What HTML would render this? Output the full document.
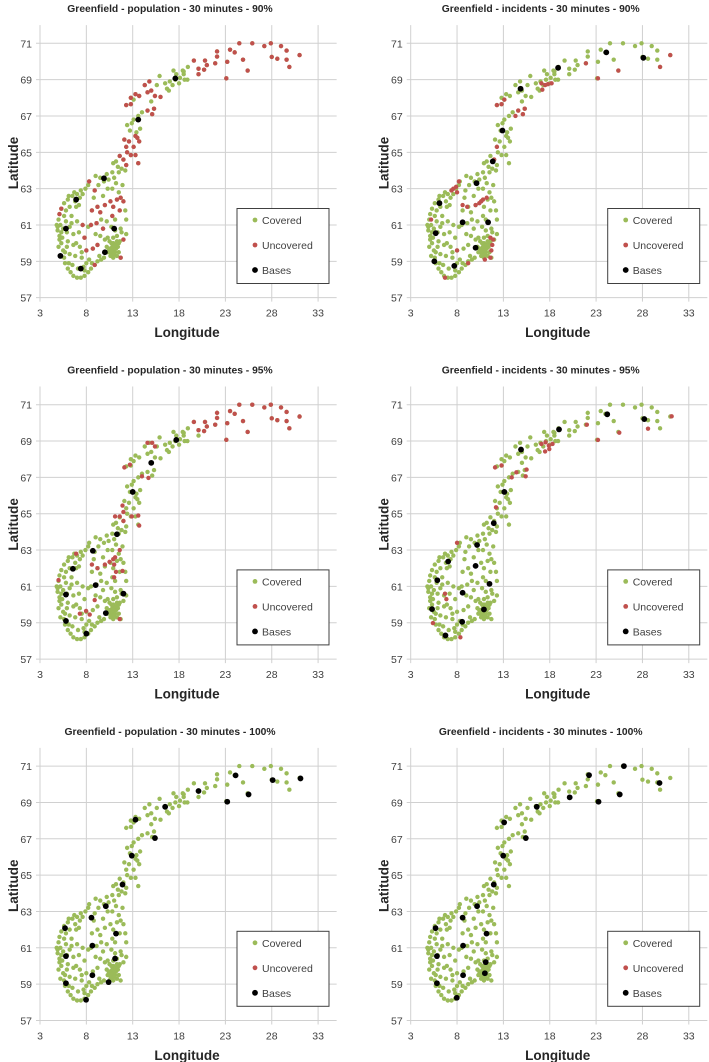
<!DOCTYPE html>
<html><head><meta charset="utf-8"><style>
html,body{margin:0;padding:0;background:#fff;}
svg{display:block;font-family:"Liberation Sans",sans-serif;}
</style></head><body>
<svg id="chart" width="709" height="1062" viewBox="0 0 709 1062" xmlns="http://www.w3.org/2000/svg"></svg>
<script>
const titles=["Greenfield - population - 30 minutes - 90%","Greenfield - incidents - 30 minutes - 90%","Greenfield - population - 30 minutes - 95%","Greenfield - incidents - 30 minutes - 95%","Greenfield - population - 30 minutes - 100%","Greenfield - incidents - 30 minutes - 100%"];
const xTicks=[3,8,13,18,23,28,33];
const yTicks=[57,59,61,63,65,67,69,71];
const demandPoints=[[24.5,71.0],[25.9,71.0],[27.9,71.0],[27.2,70.85],[29.0,70.85],[29.6,70.6],[31.0,70.35],[23.5,70.65],[24.0,70.5],[22.1,70.55],[22.1,70.27],[21.9,69.9],[19.6,70.05],[20.8,70.05],[21.0,69.8],[20.1,69.6],[20.7,69.55],[20.1,69.3],[23.2,69.98],[24.9,70.1],[25.4,69.5],[23.1,69.07],[28.0,70.25],[28.6,70.15],[29.6,70.1],[29.9,69.7],[18.95,69.7],[18.5,69.45],
[15.9,69.2],[16.5,68.8],[17.0,68.9],[17.4,69.5],[17.7,69.3],[18.1,69.1],[18.5,69.3],[18.9,69.0],[16.7,68.5],[16.9,68.4],[17.3,68.7],[17.6,69.0],[18.0,68.8],[18.4,69.5],[18.6,69.0],[15.6,68.7],[14.8,68.9],[14.3,68.7],[15.0,68.4],[14.6,68.3],[16.0,68.05],[15.4,68.1],[13.3,68.2],[13.7,68.1],[12.8,68.0],[13.1,67.9],[12.3,67.6],[12.8,67.65],[15.0,67.8],[15.3,67.4],[15.1,67.1],[14.6,67.3],[14.0,67.2],[13.6,67.0],[13.1,66.8],[12.9,66.6],[12.4,66.5],[12.7,66.2],[13.4,66.1],[13.8,66.3],[13.3,65.9],[12.6,65.6],[12.1,65.7],[13.7,65.6],[13.5,65.8],[13.1,65.3],[12.3,65.3],[12.4,65.0],[12.8,64.85],[13.3,64.85],[13.6,64.4],[12.0,64.6],[11.6,64.8],[11.2,64.5],[10.9,64.4],[11.4,64.2],[12.3,64.3],[10.8,63.9],[11.5,63.9],[11.0,63.6],[10.4,63.5],[9.9,63.4],[9.5,63.6],[9.0,63.7],[8.3,63.4],[11.9,63.2],[11.2,63.3],[10.8,63.0],[10.3,63.0],[11.5,62.8],[11.3,62.4],[11.7,62.5],[10.6,62.3],[10.0,62.1],[9.2,62.0],[8.6,61.8],[9.5,61.7],[10.8,61.5],[11.6,61.8],[12.2,61.8],[12.3,61.3],[11.1,61.3],[10.2,61.2],[9.1,61.1],[8.5,61.0],[9.8,60.8],[10.7,60.9],[11.7,60.8],[12.3,60.5],[12.0,60.2],[11.5,60.0],[11.0,59.9],[10.6,59.7],[10.3,59.5],[10.8,59.4],[11.3,59.3],[11.7,59.2],[9.9,59.2],[9.6,59.1],[9.2,59.0],[8.9,58.8],[8.5,58.6],[8.2,58.4],[7.8,58.2],[7.4,58.1],[7.0,58.1],[6.6,58.2],[6.3,58.4],[6.0,58.6],[5.7,58.9],[5.6,59.2],[5.2,59.3],[5.5,59.6],[5.3,60.0],[5.1,60.4],[4.9,60.7],[4.8,61.0],[5.0,61.3],[5.1,61.6],[5.3,61.9],[5.6,62.2],[6.0,62.4],[6.5,62.6],[7.0,62.7],[7.4,62.9],[7.9,63.0],[8.2,63.2],[6.8,62.3],[7.3,62.5],[6.2,62.0],[5.8,61.8],[6.4,61.5],[7.0,61.2],[7.6,61.0],[5.8,61.2],[6.2,60.9],[5.9,60.6],[6.6,60.5],[7.2,60.6],[7.8,60.3],[6.0,60.1],[6.6,59.9],[7.3,59.8],[8.0,59.6],[8.7,59.7],[9.2,59.9],[9.5,60.4],[6.2,59.4],[6.8,59.3],[7.5,59.2],[8.3,59.1],[6.5,58.8],[7.1,58.6],[7.7,58.7],[8.0,58.9],[10.9,60.3],[11.3,60.4],[11.8,60.6],[11.2,59.7],[11.0,59.6],[10.9,60.0],[10.5,60.1],[10.2,59.8],[11.4,59.8],[11.6,60.1],[5.5,60.8],[5.2,61.0],[5.4,60.3],[5.0,59.8],[5.7,59.5],[6.9,62.0],[8.8,62.5],[9.8,62.6],[12.2,64.0],[11.8,64.1],[10.2,63.8],[9.3,63.2],[8.9,62.9],[10.9,62.0],[12.0,62.3],
[10.5,59.5],[10.7,59.6],[10.9,59.7],[11.1,59.5],[10.8,59.8],[11.0,59.4],[10.6,59.3],[11.2,59.9],[10.4,59.7],[10.9,59.2],[11.3,60.1],[10.7,60.0],[11.5,59.5],[10.3,60.3],[11.1,60.7],[5.1,60.2],[5.3,60.6],[4.9,60.9],[5.6,61.5],[6.1,62.6],[6.7,62.8],[7.6,62.7],[7.8,58.5],[8.6,58.9],[9.4,59.3],[6.1,58.9],[5.9,59.8],[6.4,61.1],[7.2,62.1],[9.0,60.5],[8.2,60.9],[10.0,60.2],[9.6,61.3],[6.9,60.0],[7.5,59.5]];
const uncovered1=[[24.5,71.0],[25.9,71.0],[27.9,71.0],[27.2,70.85],[29.0,70.85],[29.6,70.6],[31.0,70.35],[23.5,70.65],[24.0,70.5],[22.1,70.55],[22.1,70.27],[21.9,69.9],[19.6,70.05],[20.8,70.05],[21.0,69.8],[20.1,69.6],[20.7,69.55],[20.1,69.3],[23.2,69.98],[24.9,70.1],[25.4,69.5],[23.1,69.07],[28.0,70.25],[28.6,70.15],[29.6,70.1],[29.9,69.7],[12.3,67.6],[12.8,67.65],[13.3,68.2],[13.7,68.1],[12.8,68.0],[14.3,68.7],[14.8,68.9],[15.0,68.4],[14.6,68.3],[15.4,68.1],[16.0,68.05],[15.3,67.4],[15.1,67.1],[14.6,67.3],[13.3,65.9],[12.6,65.6],[12.1,65.7],[13.7,65.6],[13.5,65.8],[13.1,65.3],[12.3,65.3],[12.4,65.0],[12.8,64.85],[13.3,64.85],[13.6,64.4],[12.0,64.6],[11.6,64.8],[12.3,64.3],[11.3,62.4],[11.7,62.5],[10.6,62.3],[10.0,62.1],[9.2,62.0],[8.6,61.8],[9.5,61.7],[10.8,61.5],[11.6,61.8],[9.1,61.1],[8.5,61.0],[9.8,60.8],[7.8,60.3],[8.7,59.7],[8.0,59.6],[9.2,59.9],[11.7,59.2],[12.0,60.2],[5.3,61.9],[5.1,61.6],[8.9,58.8],[7.6,61.0],[8.9,62.9],[8.3,63.4],[10.9,62.0],[12.0,62.3]];
const uncovered2=[[23.2,69.07],[25.4,69.5],[29.9,69.7],[31.0,70.35],[21.9,69.9],[17.1,68.8],[17.5,68.7],[17.8,68.75],[18.2,68.8],[17.2,68.45],[12.3,67.6],[12.8,67.65],[13.1,67.9],[14.6,67.3],[15.3,67.4],[15.1,67.1],[14.3,67.0],[12.3,65.3],[12.0,64.6],[7.6,63.0],[7.9,63.1],[8.0,62.8],[7.4,62.9],[8.2,63.4],[8.6,62.1],[9.1,62.0],[10.0,62.1],[10.4,62.2],[10.8,62.4],[11.2,62.5],[10.6,62.3],[5.2,61.3],[11.6,60.3],[11.9,60.2],[11.8,59.9],[11.7,59.6],[11.6,59.2],[11.0,59.1],[9.2,58.9],[8.0,59.6],[6.7,58.1]];
const uncovered3=[[24.5,71.0],[25.9,71.0],[27.9,71.0],[27.2,70.85],[29.0,70.85],[29.6,70.6],[31.0,70.35],[23.5,70.65],[24.0,70.5],[22.1,70.55],[22.1,70.27],[21.9,69.9],[19.6,70.05],[20.8,70.05],[21.0,69.8],[20.1,69.6],[20.7,69.55],[23.2,69.98],[24.9,70.1],[25.4,69.5],[23.1,69.07],[28.0,70.25],[28.6,70.15],[29.6,70.1],[29.9,69.7],[15.1,68.9],[14.6,68.9],[15.4,68.7],[12.1,67.55],[12.7,67.7],[14.0,67.06],[14.7,66.97],[11.9,65.45],[12.0,65.1],[12.0,64.6],[11.1,64.85],[11.6,64.85],[12.9,64.85],[13.6,64.9],[13.7,64.35],[10.0,62.2],[10.5,62.35],[10.9,62.5],[11.1,62.6],[8.6,62.2],[9.2,62.0],[11.2,61.8],[11.9,61.85],[11.6,63.0],[6.9,62.8],[5.0,61.35],[8.9,60.25],[7.3,59.5],[7.97,59.65],[8.36,59.45],[11.0,61.5],[11.6,59.2],[11.0,62.2]];
const uncovered4=[[31.15,70.36],[23.2,69.06],[25.5,69.46],[28.6,69.68],[22.0,69.9],[17.1,68.84],[17.55,68.93],[17.9,68.75],[18.3,68.84],[17.5,68.43],[17.95,68.56],[12.1,67.55],[12.8,67.66],[14.4,67.28],[13.9,67.0],[15.5,67.43],[15.4,67.06],[12.2,65.35],[8.0,63.4],[5.4,58.98],[8.36,58.2],[6.7,60.6],[6.85,60.3]];
const uncovered5=[];
const uncovered6=[];
const bases1=[[17.6,69.07],[13.6,66.8],[9.9,63.57],[6.9,62.4],[5.8,60.8],[11.0,60.8],[10.0,59.5],[5.2,59.3],[7.4,58.6]];
const bases2=[[24.1,70.5],[28.1,70.2],[18.9,69.65],[14.85,68.5],[12.9,66.2],[11.85,64.5],[10.1,63.3],[6.1,62.2],[8.6,61.15],[11.35,61.15],[5.7,60.55],[10.0,59.75],[5.55,59.0],[7.7,58.75]];
const bases3=[[17.7,69.06],[15.0,67.8],[13.0,66.2],[11.3,63.87],[8.7,62.96],[6.55,61.97],[9.0,61.07],[5.8,60.55],[12.0,60.6],[10.1,59.53],[5.8,59.1],[8.0,58.4]];
const bases4=[[24.2,70.47],[28.2,70.21],[19.0,69.64],[14.9,68.53],[13.1,66.2],[11.96,64.48],[10.16,63.28],[7.04,62.37],[10.0,62.13],[5.87,61.34],[11.5,61.14],[8.6,60.65],[5.3,59.75],[10.9,59.73],[8.55,59.05],[6.75,58.3]];
const bases5=[[31.1,70.32],[28.1,70.23],[24.1,70.49],[25.5,69.44],[23.2,69.04],[20.1,69.63],[16.5,68.76],[13.3,68.05],[15.4,67.04],[12.9,66.07],[11.9,64.48],[10.1,63.29],[8.55,62.66],[5.7,62.08],[11.2,61.78],[8.65,61.12],[5.8,60.54],[11.1,60.41],[8.65,59.49],[10.4,59.11],[5.8,59.05],[7.97,58.14]];
const bases6=[[26.0,71.0],[22.24,70.5],[29.84,70.07],[25.55,69.44],[23.26,69.04],[20.15,69.28],[16.6,68.76],[13.08,67.9],[15.42,67.04],[12.98,66.07],[11.96,64.48],[10.16,63.29],[8.6,62.66],[5.68,62.08],[11.18,61.78],[8.65,61.12],[5.83,60.54],[11.09,60.21],[11.0,59.6],[8.65,59.49],[5.83,59.05],[7.97,58.25]];
const legendLabels=["Covered","Uncovered","Bases"];

const NS="http://www.w3.org/2000/svg";
const svg=document.getElementById('chart');
const uncAll=[uncovered1,uncovered2,uncovered3,uncovered4,uncovered5,uncovered6];
const basesAll=[bases1,bases2,bases3,bases4,bases5,bases6];
const GREEN="#9bbb59",RED="#c0504d";
function mk(tag,attrs,parent){const e=document.createElementNS(NS,tag);for(const k in attrs)e.setAttribute(k,attrs[k]);parent.appendChild(e);return e;}
const X=l=>40+(l-3)*9.27;
const Y=l=>43.3+(71-l)*18.17;
for(let p=0;p<6;p++){
  const ox=(p%2)*370.7, oy=Math.floor(p/2)*361.4;
  const g=mk('g',{transform:`translate(${ox},${oy})`},svg);
  
  
  const t=mk('text',{x:170,y:12,'text-anchor':'middle','font-size':'10.3','font-weight':'bold',fill:'#262626'},g);
  t.textContent=titles[p];
  
  
  xTicks.forEach(v=>{
    const ln=mk('line',{x1:X(v),x2:X(v),y1:Y(72),y2:Y(57)+4,stroke:'#d0d0d0','stroke-width':1},g);
    
    
    const tx=mk('text',{x:X(v),y:Y(57)+19,'text-anchor':'middle','font-size':'10.5',fill:'#404040'},g);
    tx.textContent=v;
    
    
  });
  yTicks.forEach(v=>{
    const ln=mk('line',{x1:X(3)-4,x2:X(35),y1:Y(v),y2:Y(v),stroke:'#d0d0d0','stroke-width':1},g);
    
    
    const tx=mk('text',{x:32,y:Y(v)+4,'text-anchor':'end','font-size':'10.5',fill:'#404040'},g);
    tx.textContent=v;
    
    
  });
  const xt=mk('text',{x:187,y:337,'text-anchor':'middle','font-size':'13.5','font-weight':'bold',fill:'#262626'},g);
  xt.textContent="Longitude";
  
  
  const yt=mk('text',{x:0,y:0,'text-anchor':'middle','font-size':'13.5','font-weight':'bold',fill:'#262626',transform:'translate(18,163) rotate(-90)'},g);
  yt.textContent="Latitude";
  
  
  demandPoints.forEach(d=>{
    const c=mk('circle',{cx:X(d[0]),cy:Y(d[1]),r:2.2,fill:GREEN},g);
    
    
  });
  uncAll[p].forEach(d=>{
    const c=mk('circle',{cx:X(d[0]),cy:Y(d[1]),r:2.2,fill:RED},g);
    
    
  });
  basesAll[p].forEach(d=>{
    const c=mk('circle',{cx:X(d[0]),cy:Y(d[1]),r:2.9,fill:'#000'},g);
    
    
  });
  const lg=mk('g',{},g);
  
  
  mk('rect',{x:237,y:208.5,width:92,height:75,fill:'#fff',stroke:'#404040','stroke-width':1},lg);
  const cols=[GREEN,RED,'#000'], rs=[2.4,2.4,2.9];
  legendLabels.forEach((lab,i)=>{
    const ey=220+i*25;
    const c=mk('circle',{cx:255,cy:ey,r:rs[i],fill:cols[i]},lg);
    
    
    const tx=mk('text',{x:262,y:ey+4,'font-size':'10.5',fill:'#404040'},lg);
    tx.textContent=lab;
    
    
  });
}
</script>
</body></html>
